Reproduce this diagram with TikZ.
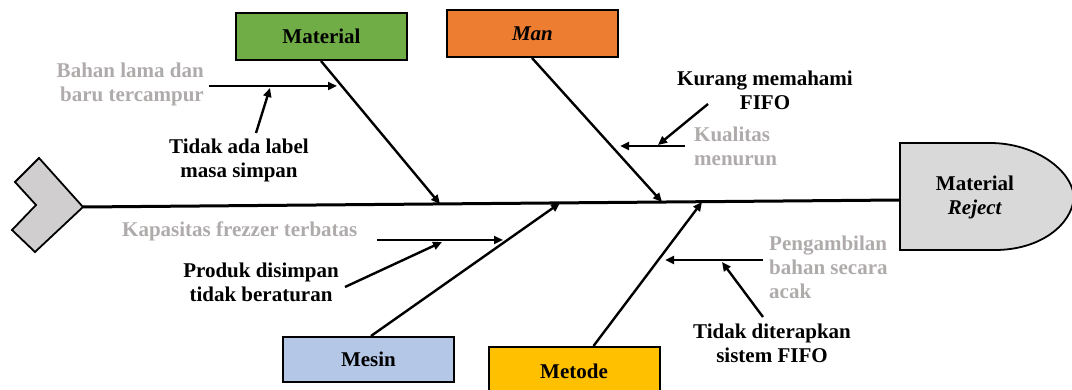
\documentclass[tikz,border=0pt]{standalone}
\usepackage{fontspec}
\setmainfont{Liberation Serif}
\usepackage{tikz}
\usetikzlibrary{arrows.meta}
\definecolor{matgreen}{HTML}{70AD47}
\definecolor{manorange}{HTML}{ED7D31}
\definecolor{mesinblue}{HTML}{B4C7E7}
\definecolor{metodeyellow}{HTML}{FFC000}
\definecolor{headgray}{HTML}{D9D9D9}
\definecolor{tailgray}{HTML}{D0CECE}
\definecolor{subgray}{RGB}{175,171,171}

\begin{document}
\begin{tikzpicture}[
x=1pt, y=-1pt,
catbox/.style={draw=black, line width=2pt, minimum width=171pt, minimum height=47pt, inner sep=0pt, font=\bfseries\fontsize{21}{24}\selectfont},
cause/.style={align=center, inner sep=0pt, font=\bfseries\fontsize{21}{24}\selectfont},
subcause/.style={cause, text=subgray},
bone/.style={-{Triangle[length=9pt, width=8pt]}, line width=2.4pt}
]
\useasboundingbox (0,0) rectangle (1072,390);

% tail and head of the fish
\draw[fill=tailgray, line width=1.8pt] (15,182) -- (39,158) -- (83,207) -- (35,252) -- (12,230) -- (36,205) -- cycle;
\coordinate (tail) at (83,207);
\draw[fill=headgray, line width=1.8pt] (900,143) -- (990,143) .. controls (1035,143) and (1072,170) .. (1074,197) .. controls (1072,225) and (1040,250) .. (995,250) -- (900,250) -- cycle;
\coordinate (headw) at (900,200);
\node[cause] (effect) at (975,197) {Material\\\textit{Reject}};
\draw[line width=3pt] (tail) -- (headw);

% categories
\node[catbox, fill=matgreen] (material) at (321.5,36.5) {Material};
\node[catbox, fill=manorange] (man) at (532.5,33.5) {\textit{Man}};
\node[catbox, fill=mesinblue, minimum height=45pt] (mesin) at (368.5,359.5) {Mesin};
\node[catbox, fill=metodeyellow, minimum height=48pt] (metode) at (574,371) {Metode};

% bones
\coordinate (jmat) at (440,204);
\coordinate (jman) at (662,202);
\coordinate (jmesin) at (560,203);
\coordinate (jmetode) at (702,202);
\draw[bone] ([xshift=86pt]material.south west) -- (jmat);
\draw[bone] ([xshift=86pt]man.south west) -- (jman);
\draw[bone] ([xshift=89pt]mesin.north west) -- (jmesin);
\draw[bone] ([xshift=106pt]metode.north west) -- (jmetode);

% Material causes
\node[subcause, align=right, anchor=east] (bahan) at (204,84) {Bahan lama dan\\baru tercampur};
\node[cause] (label) at (239,160) {Tidak ada label\\masa simpan};
\coordinate (bahanA) at (209,86);
\coordinate (bahanB) at (337,86);
\coordinate (bahanC) at (270,88);
\coordinate (labelA) at (256,133);
\draw[bone] (bahanA) -- (bahanB);
\draw[bone] (labelA) -- (bahanC);

% Man causes
\node[cause] (fifo) at (765,90) {Kurang memahami\\FIFO};
\node[subcause, align=left, anchor=west] (kualitas) at (694,146) {Kualitas\\menurun};
\coordinate (kualitasA) at (685,146);
\coordinate (kualitasB) at (620,146);
\coordinate (kualitasC) at (658,145);
\coordinate (fifoA) at (708,104);
\draw[bone] (kualitasA) -- (kualitasB);
\draw[bone] (fifoA) -- (kualitasC);

% Mesin causes
\node[subcause, anchor=west] (frezzer) at (122,231) {Kapasitas frezzer terbatas};
\node[cause] (produk) at (261,282) {Produk disimpan\\tidak beraturan};
\coordinate (frezzerA) at (377,240);
\coordinate (frezzerB) at (503,240);
\coordinate (frezzerC) at (442,242);
\coordinate (produkA) at (345,287);
\draw[bone] (frezzerA) -- (frezzerB);
\draw[bone] (produkA) -- (frezzerC);

% Metode causes
\node[subcause, align=left, anchor=west] (ambil) at (769,267) {Pengambilan\\bahan secara\\acak};
\node[cause] (sistem) at (772,343) {Tidak diterapkan\\sistem FIFO};
\coordinate (ambilA) at (763,260);
\coordinate (ambilB) at (665,260);
\coordinate (ambilC) at (722,262);
\coordinate (sistemA) at (763,317);
\draw[bone] (ambilA) -- (ambilB);
\draw[bone] (sistemA) -- (ambilC);
\end{tikzpicture}
\end{document}
